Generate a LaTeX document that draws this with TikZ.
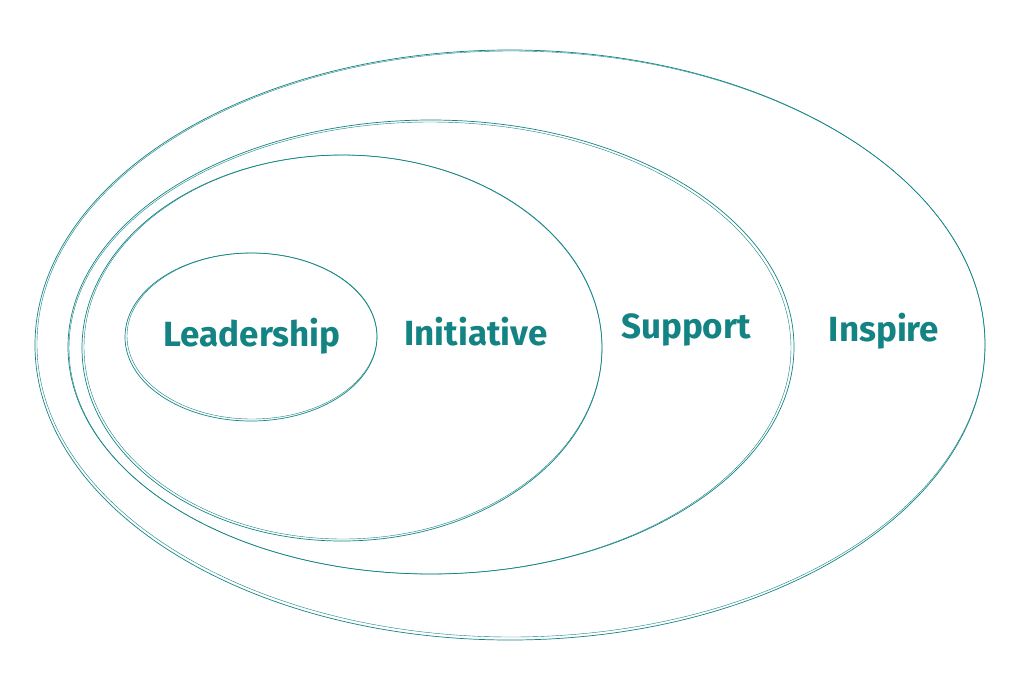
\documentclass[tikz,border=0pt]{standalone}
\usepackage{fontspec}
\setmainfont{Fira Sans}
\usetikzlibrary{shapes.geometric}
\definecolor{tealink}{HTML}{138384}

\begin{document}
\begin{tikzpicture}[
    x=1pt,y=-1pt,
    ring/.style={draw=tealink,line width=0.7pt},
    rough/.style={draw=tealink,line width=0.4pt},
    lbl/.style={text=tealink,font=\fontsize{35}{40}\selectfont\bfseries,inner sep=0pt},
  ]
    \useasboundingbox (0,0) rectangle (1031,694);
    % rings, each stroked twice for the sketchy look
    \draw[ring]  (510,345) ellipse [x radius=475,y radius=295];
    \draw[rough] (511,344) ellipse [x radius=474,y radius=293];
    \draw[ring]  (431,347) ellipse [x radius=363,y radius=227];
    \draw[rough] (430,348) ellipse [x radius=361,y radius=226];
    \draw[ring]  (342,348) ellipse [x radius=260,y radius=193];
    \draw[rough] (343,347) ellipse [x radius=259,y radius=192];
    \draw[ring]  (251,337) ellipse [x radius=126,y radius=84];
    \draw[rough] (252,336) ellipse [x radius=125,y radius=83];
    \node[lbl] (lead) at (252,336) {Leadership};
    \node[lbl] (init) at (476,332) {Initiative};
    \node[lbl] (supp) at (686,330) {Support};
    \node[lbl] (insp) at (884,331) {Inspire};
  \end{tikzpicture}
\end{document}
